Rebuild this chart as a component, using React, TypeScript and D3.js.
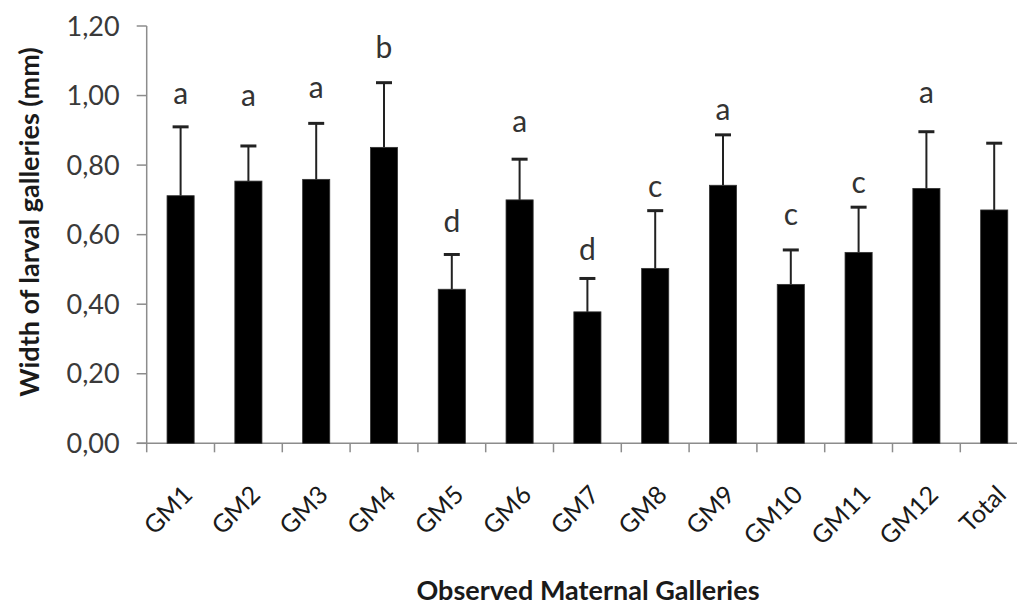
import React from "react";
import * as d3 from "d3";

const categories = ["GM1", "GM2", "GM3", "GM4", "GM5", "GM6", "GM7", "GM8", "GM9", "GM10", "GM11", "GM12", "Total"];
const means = [0.712, 0.754, 0.759, 0.851, 0.443, 0.700, 0.378, 0.503, 0.742, 0.457, 0.549, 0.733, 0.671];
const sds = [0.198, 0.101, 0.161, 0.186, 0.100, 0.117, 0.096, 0.166, 0.145, 0.099, 0.130, 0.163, 0.192];
const letters = ["a", "a", "a", "b", "d", "a", "d", "c", "a", "c", "c", "a", ""];
// letter baseline heights in data units (mm)
const letterLevels = [0.976, 0.971, 0.993, 1.108, 0.609, 0.896, 0.527, 0.709, 0.929, 0.628, 0.719, 0.978, 0];
const yTicks = [0, 0.2, 0.4, 0.6, 0.8, 1.0, 1.2];

const W = 1017;
const H = 605;
const FONT = "Lato, 'Open Sans', sans-serif";

export default function App() {
  const x = d3
    .scaleBand<string>()
    .domain(categories)
    .range([146.7, 146.7 + 67.8 * categories.length])
    .paddingInner(0.6)
    .paddingOuter(0.3);
  const y = d3.scaleLinear().domain([0, 1.2]).range([443.3, 26]);
  const fmt = (v: number) => v.toFixed(2).replace(".", ",");
  const axisColor = "#8c8c8c";
  const x0 = x.range()[0];
  const y0 = y(0);

  return (
    <svg width={W} height={H} style={{ position: "absolute", left: 0, top: 0, background: "#fff" }}>
      {/* y axis */}
      <line x1={x0} x2={x0} y1={y(1.2)} y2={y0} stroke={axisColor} strokeWidth={1.5} />
      {yTicks.map((t) => (
        <g key={t}>
          <line x1={x0 - 10} x2={x0} y1={y(t)} y2={y(t)} stroke={axisColor} strokeWidth={1.5} />
          <text
            x={x0 - 27}
            y={y(t)}
            dy="0.36em"
            textAnchor="end"
            fontFamily={FONT}
            fontSize={27}
            fill="#3a3a3a"
          >
            {fmt(t)}
          </text>
        </g>
      ))}
      {/* x axis */}
      <line x1={x0 - 10} x2={W} y1={y0} y2={y0} stroke={axisColor} strokeWidth={1.5} />
      {categories.map((c, i) => {
        const tx = x0 + i * x.step();
        return <line key={"t" + c} x1={tx} x2={tx} y1={y0} y2={y0 + 9} stroke={axisColor} strokeWidth={1.5} />;
      })}
      {/* bars */}
      {categories.map((c, i) => {
        const bx = x(c)!;
        const bw = x.bandwidth();
        const cx = bx + bw / 2;
        const top = y(means[i]);
        const et = y(means[i] + sds[i]);
        return (
          <g key={c}>
            <rect x={bx} y={top} width={bw} height={y0 - top} fill="#000" stroke="#333" strokeWidth={0.8} />
            <line x1={cx} x2={cx} y1={et} y2={top} stroke="#222" strokeWidth={2} />
            <line x1={cx - 8} x2={cx + 8} y1={et} y2={et} stroke="#222" strokeWidth={3} />
            {letters[i] && (
              <text x={cx} y={y(letterLevels[i])} textAnchor="middle" fontFamily={FONT} fontSize={30} fill="#333">
                {letters[i]}
              </text>
            )}
            <text
              transform={`translate(${cx + 7},${490}) rotate(-45)`}
              textAnchor="end"
              dy="0.36em"
              fontFamily={FONT}
              fontSize={25}
              fill="#1a1a1a"
            >
              {c}
            </text>
          </g>
        );
      })}
      {/* axis titles */}
      <text
        x={588}
        y={600}
        textAnchor="middle"
        fontFamily={FONT}
        fontWeight="bold"
        fontSize={27}
        fill="#1a1a1a"
      >
        Observed Maternal Galleries
      </text>
      <text
        transform={`translate(39,222) rotate(-90)`}
        textAnchor="middle"
        fontFamily={FONT}
        fontWeight="bold"
        fontSize={27}
        fill="#1a1a1a"
      >
        Width of larval galleries (mm)
      </text>
    </svg>
  );
}
